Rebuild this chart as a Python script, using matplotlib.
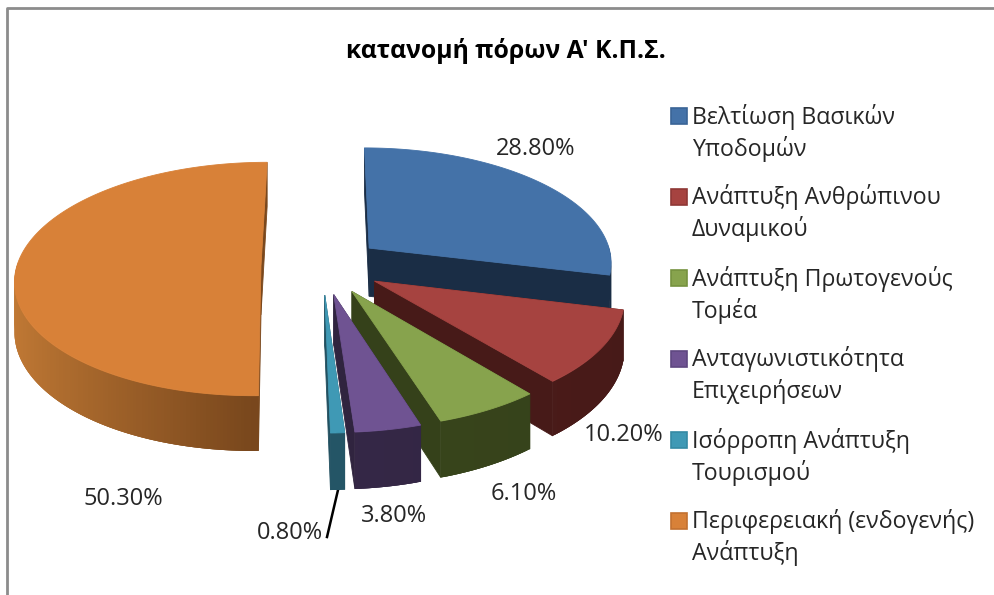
import numpy as np
import matplotlib
matplotlib.use("Agg")
import matplotlib.pyplot as plt
from matplotlib.patches import Polygon, Rectangle

plt.rcParams['font.family'] = ['Open Sans', 'DejaVu Sans']

#data
title = "κατανομή πόρων Α' Κ.Π.Σ."
legend_lines = [["Βελτίωση Βασικών", "Υποδομών"],
                ["Ανάπτυξη Ανθρώπινου", "Δυναμικού"],
                ["Ανάπτυξη Πρωτογενούς", "Τομέα"],
                ["Ανταγωνιστικότητα", "Επιχειρήσεων"],
                ["Ισόρροπη Ανάπτυξη", "Τουρισμού"],
                ["Περιφερειακή (ενδογενής)", "Ανάπτυξη"]]
values = [28.8, 10.2, 6.1, 3.8, 0.8, 50.3]
top_colors = ['#4472a8', '#a64340', '#87a34d', '#6f5392', '#3f99b5', '#d88138']
side_light = ['#1b3049', '#521d1b', '#3c4a1e', '#3a2b4f', '#265a6c', '#c27a35']
side_dark = ['#1a2d45', '#471a18', '#35411a', '#30243f', '#225060', '#7a481d']
key_edges = ['#3a6496', '#8f3836', '#76923f', '#5f4780', '#358aa4', '#c27130']
label_pos = [(536, 149), (624, 435), (524, 494), (394, 516), (290, 533), (123, 499)]

#projection of the 3d pie into pixels
cx, cy = 322, 265.6
R = 244
k = 0.472
p = 0.1124
explode = 0.25
depth = 49


def project(u, v, z=0):
    s = 1 / (1 + p * v)
    return cx + R * u * s, cy - R * k * v * s + z * depth * s


fig = plt.figure(figsize=(9.95, 5.95), dpi=100)
ax = fig.add_axes([0, 0, 1, 1])
ax.set_xlim(0, 995)
ax.set_ylim(595, 0)
ax.axis('off')

#chart border, only left and top show
ax.plot([7, 7, 995], [595, 8, 8], color='#8c8c8c', lw=2)


def fill(pts, color, zo, lw=0.6):
    ax.add_patch(Polygon(pts, closed=True, fc=color, ec=color if lw else 'none', lw=lw, zorder=zo))


edges = np.cumsum([0] + values) / 100 * 2 * np.pi
#back slices first so the front ones sit on top
order = [0, 5, 1, 2, 3, 4]
for n, i in enumerate(order):
    a0, a1 = edges[i], edges[i + 1]
    mid = (a0 + a1) / 2
    ou, ov = explode * np.sin(mid), explode * np.cos(mid)
    th = np.linspace(a0, a1, max(int((a1 - a0) * 80), 4))
    us = ou + np.sin(th)
    vs = ov + np.cos(th)
    base = 10 + n * 5
    # radial side walls
    for t in (a0, a1):
        eu, ev = ou + np.sin(t), ov + np.cos(t)
        fill([project(ou, ov), project(eu, ev), project(eu, ev, 1), project(ou, ov, 1)],
             side_dark[i], base)
    # outer wall, only the part facing the viewer
    light = np.array(matplotlib.colors.to_rgb(side_light[i]))
    dark = np.array(matplotlib.colors.to_rgb(side_dark[i]))
    facing = [j for j in range(len(th) - 1) if np.cos(th[j]) <= 0.02]
    # left to right so each strip overlaps the seam of the one before it
    facing.sort(key=lambda j: us[j])
    for j in facing:
        if i == 5:
            f = 1 + np.sin(th[j])
        else:
            f = (np.sin(th[j]) + 1) / 2
        c = light + (dark - light) * f
        j2 = min(j + 2, len(th) - 1)
        j0 = max(j - 1, 0)
        pts = [project(us[q], vs[q]) for q in range(j0, j2 + 1)]
        pts += [project(us[q], vs[q], 1) for q in range(j2, j0 - 1, -1)]
        fill(pts, tuple(c), base + 1, lw=0)
    # top face
    top = [project(ou, ov)] + [project(a, b) for a, b in zip(us, vs)]
    fill(top, top_colors[i], base + 2)

for v, pos in zip(values, label_pos):
    ax.text(pos[0], pos[1], f"{v:.2f}%", ha='center', va='center', fontsize=17, color='#262626', zorder=60)

#leader line for the small slice
ax.plot([327, 338], [537, 490], color='black', lw=1.8, zorder=5)

ax.text(506, 51, title, ha='center', va='center', fontsize=17.8, fontweight='bold', color='black')

#legend
for i, lines in enumerate(legend_lines):
    y = 115.5 + i * 81
    ax.add_patch(Rectangle((671, y - 8), 15.5, 16.5, fc=top_colors[i], ec=key_edges[i], lw=1.2))
    ax.text(692, y + 1, lines[0], va='center', fontsize=16.7, color='#262626')
    ax.text(692, y + 33, lines[1], va='center', fontsize=16.7, color='#262626')

fig.savefig("out.png", dpi=100)
